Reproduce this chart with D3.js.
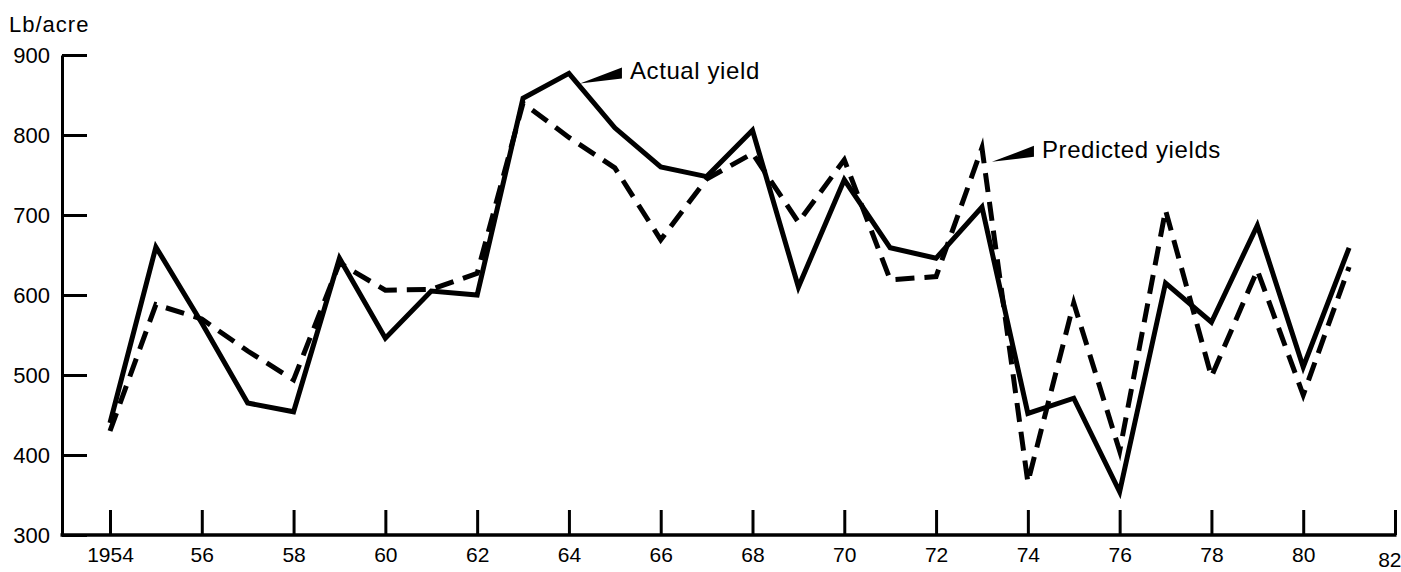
<!DOCTYPE html>
<html>
<head>
<meta charset="utf-8">
<script src="https://cdn.jsdelivr.net/npm/d3@7"></script>
<style>
  html, body { margin: 0; padding: 0; background: #fff; }
  svg { display: block; font-family: "Liberation Sans", Arial, Helvetica, sans-serif; }
</style>
</head>
<body>
<svg id="chart" width="1401" height="572"></svg>
<script>
// data
const years = d3.range(1954, 1982);
const actualYield = [440, 660, 565, 465, 454, 646, 546, 605, 600, 846, 877, 809, 760, 748,
  806, 610, 744, 659, 646, 710, 452, 471, 354, 615, 566, 687, 510, 659];
const predictedYield = [430, 588, 570, 530, 494, 640, 606, 607, 627, 840, 797, 759, 669, 745,
  777, 691, 769, 619, 623, 784, 366, 590, 405, 706, 498, 631, 475, 635];
const yTicks = [300, 400, 500, 600, 700, 800, 900];
const xTicks = d3.range(1954, 1983, 2);

const svg = d3.select("#chart");

const x = d3.scaleLinear().domain([1954, 1982]).range([110, 1395]);
const y = d3.scaleLinear().domain([300, 900]).range([535, 55]);
const axisLeftX = 62;

// y axis (ticks point inward)
const yAxis = svg.append("g")
  .attr("transform", `translate(${axisLeftX},0)`)
  .call(d3.axisLeft(y).tickValues(yTicks).tickSizeInner(-25).tickSizeOuter(0).tickPadding(12));
yAxis.select(".domain").attr("stroke-width", 3);
yAxis.selectAll(".tick line").attr("stroke-width", 3);
yAxis.selectAll(".tick text").attr("font-size", 22).attr("fill", "#000");

// x axis
const xAxis = svg.append("g")
  .attr("transform", `translate(0,${y(300)})`)
  .call(d3.axisBottom(x).tickValues(xTicks).tickSizeInner(-25).tickSizeOuter(0).tickPadding(12)
    .tickFormat(d => d === 1954 ? "1954" : String(d % 100)));
xAxis.select(".domain").remove();
xAxis.selectAll(".tick line").attr("stroke-width", 3);
xAxis.selectAll(".tick text").attr("font-size", 21).attr("fill", "#000")
  .attr("dy", d => d === 1982 ? "0.95em" : "0.71em")
  .attr("text-anchor", d => d === 1982 ? "end" : "middle")
  .attr("dx", d => d === 1982 ? 6 : 0);
xAxis.append("line")
  .attr("x1", axisLeftX - 1.5).attr("x2", x(1982) + 1.5)
  .attr("y1", 0).attr("y2", 0)
  .attr("stroke", "#000").attr("stroke-width", 3.5);

// unit label
svg.append("text")
  .attr("x", 9).attr("y", 32)
  .attr("font-size", 22)
  .attr("letter-spacing", 1)
  .text("Lb/acre");

const line = d3.line().x((d, i) => x(years[i])).y(d => y(d));

svg.append("path")
  .datum(predictedYield)
  .attr("d", line)
  .attr("fill", "none")
  .attr("stroke", "#000")
  .attr("stroke-width", 5)
  .attr("stroke-dasharray", "19,10")
  .attr("stroke-linejoin", "miter")
  .attr("stroke-miterlimit", 12);

svg.append("path")
  .datum(actualYield)
  .attr("d", line)
  .attr("fill", "none")
  .attr("stroke", "#000")
  .attr("stroke-width", 5)
  .attr("stroke-linejoin", "miter")
  .attr("stroke-miterlimit", 12);

// annotations with wedge pointers
function callout(px, py, label) {
  const wx = px + 42;
  svg.append("path")
    .attr("d", `M${px},${py}L${wx},${py - 16}L${wx},${py - 5}Z`)
    .attr("fill", "#000");
  svg.append("text")
    .attr("x", wx + 8).attr("y", py - 4)
    .attr("font-size", 24)
    .attr("letter-spacing", 0.6)
    .text(label);
}
callout(x(1964) + 11, y(877) + 10, "Actual yield");
callout(x(1973) + 10, y(784) + 14, "Predicted yields");
</script>
</body>
</html>
